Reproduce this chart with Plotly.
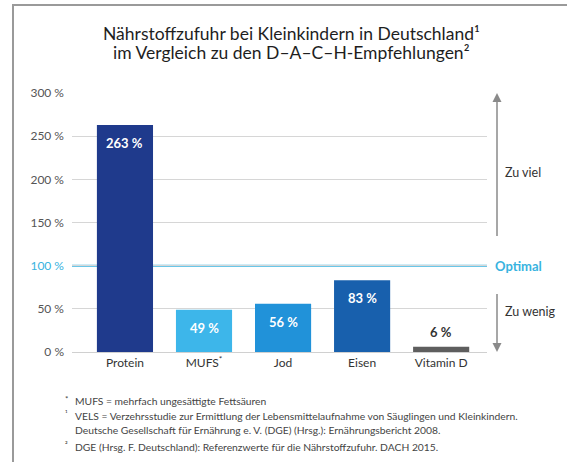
import plotly.graph_objects as go

categories = ["Protein", "MUFS*", "Jod", "Eisen", "Vitamin D"]
tick_labels = ["Protein", "MUFS<sup>*</sup>", "Jod", "Eisen", "Vitamin D"]
values = [263, 49, 56, 83, 6]
bar_colors = ["#1F3A8C", "#3DB6EA", "#2192D9", "#1860AD", "#5E5E5E"]
y_ticks = [0, 50, 100, 150, 200, 250, 300]
optimal = 100

W, H = 567, 462
L, R, T, B = 72, 487, 93, 352
FONT = "Lato"
CYAN = "#38B3E0"


def px(x):
    return (x - L) / (R - L)


def py(y):
    return (B - y) / (B - T)


y_ticktext = []
for v in y_ticks:
    if v == optimal:
        y_ticktext.append(f"<span style='color:{CYAN}'>{v} %</span>")
    else:
        y_ticktext.append(f"{v} %")

fig = go.Figure()
fig.add_trace(go.Bar(
    x=categories, y=values, marker=dict(color=bar_colors, line=dict(width=0)),
    width=0.71, hoverinfo="skip",
))

annotations = []
for c, v in zip(categories, values):
    if v >= 20:
        annotations.append(dict(x=c, y=v, xref="x", yref="y", text=f"<b>{v} %</b>",
                                showarrow=False, yanchor="middle", yshift=-18,
                                font=dict(family=FONT, size=13, color="white")))
    else:
        annotations.append(dict(x=c, y=v, xref="x", yref="y", text=f"<b>{v} %</b>",
                                showarrow=False, yanchor="bottom", yshift=5,
                                font=dict(family=FONT, size=13, color="#333333")))

# title
annotations.append(dict(x=px(291), y=py(33), xref="paper", yref="paper",
                        text="Nährstoffzufuhr bei Kleinkindern in Deutschland¹",
                        showarrow=False, xanchor="center", yanchor="middle",
                        font=dict(family=FONT, size=17.5, color="#1E1E1E")))
annotations.append(dict(x=px(291), y=py(52), xref="paper", yref="paper",
                        text="im Vergleich zu den D–A–C–H-Empfehlungen²",
                        showarrow=False, xanchor="center", yanchor="middle",
                        font=dict(family=FONT, size=17.5, color="#1E1E1E")))

# right side arrows and labels
annotations.append(dict(x=px(497), y=300, xref="paper", yref="y", ax=0, ay=152,
                        text=" ", showarrow=True,
                        arrowhead=2, arrowsize=1.2, arrowwidth=1.5, arrowcolor="#8A8A8A"))
annotations.append(dict(x=px(497), y=0, xref="paper", yref="y", ax=0, ay=-67,
                        text=" ", showarrow=True,
                        arrowhead=2, arrowsize=1.2, arrowwidth=1.5, arrowcolor="#8A8A8A"))
annotations.append(dict(x=px(503), y=py(172), xref="paper", yref="paper", text="Zu viel",
                        showarrow=False, xanchor="left", yanchor="middle",
                        font=dict(family=FONT, size=12.5, color="#333333")))
annotations.append(dict(x=px(493), y=optimal, xref="paper", yref="y", text="<b>Optimal</b>",
                        showarrow=False, xanchor="left", yanchor="middle",
                        font=dict(family=FONT, size=13, color=CYAN)))
annotations.append(dict(x=px(503), y=py(311), xref="paper", yref="paper", text="Zu wenig",
                        showarrow=False, xanchor="left", yanchor="middle",
                        font=dict(family=FONT, size=12.5, color="#333333")))

# footnotes
foot = [
    ("*", "MUFS = mehrfach ungesättigte Fettsäuren", 401),
    ("¹", "VELS = Verzehrsstudie zur Ermittlung der Lebensmittelaufnahme von Säuglingen und Kleinkindern.", 416),
    ("", "Deutsche Gesellschaft für Ernährung e. V. (DGE) (Hrsg.): Ernährungsbericht 2008.", 430),
    ("²", "DGE (Hrsg. F. Deutschland): Referenzwerte für die Nährstoffzufuhr. DACH 2015.", 447),
]
for mark, txt, yy in foot:
    annotations.append(dict(x=px(73), y=py(yy), xref="paper", yref="paper", text=txt,
                            showarrow=False, xanchor="left", yanchor="middle",
                            font=dict(family=FONT, size=10.3, color="#444444")))
    if mark:
        annotations.append(dict(x=px(70), y=py(yy - 2), xref="paper", yref="paper", text=mark,
                                showarrow=False, xanchor="right", yanchor="middle",
                                font=dict(family=FONT, size=8, color="#444444")))

shapes = [
    dict(type="line", xref="paper", yref="y", x0=0, x1=1, y0=optimal, y1=optimal,
         line=dict(color=CYAN, width=2), layer="below"),
    dict(type="line", xref="paper", yref="paper", x0=px(13), x1=px(13), y0=py(4), y1=py(470),
         line=dict(color="#9A9A9A", width=2)),
    dict(type="line", xref="paper", yref="paper", x0=px(12), x1=px(570), y0=py(5), y1=py(5),
         line=dict(color="#9A9A9A", width=2)),
]

fig.update_layout(
    width=W, height=H,
    margin=dict(l=L, r=W - R, t=T, b=H - B, pad=0),
    paper_bgcolor="white", plot_bgcolor="white",
    showlegend=False,
    font=dict(family=FONT, size=12, color="#444444"),
    xaxis=dict(range=[-0.67, 4.58], tickmode="array", tickvals=categories, ticktext=tick_labels,
               showgrid=False, showline=True, linecolor="#D0D0D0", linewidth=1, ticks="",
               tickfont=dict(family=FONT, size=12, color="#333333"), fixedrange=True),
    yaxis=dict(range=[0, 300], tickmode="array", tickvals=y_ticks, ticktext=y_ticktext,
               showgrid=True, gridcolor="#D6D6D6", gridwidth=1, zeroline=False,
               showline=False, ticks="", ticklabelstandoff=7,
               tickfont=dict(family=FONT, size=12, color="#555555"), fixedrange=True),
    annotations=annotations,
    shapes=shapes,
)

fig.write_html("out.html")
